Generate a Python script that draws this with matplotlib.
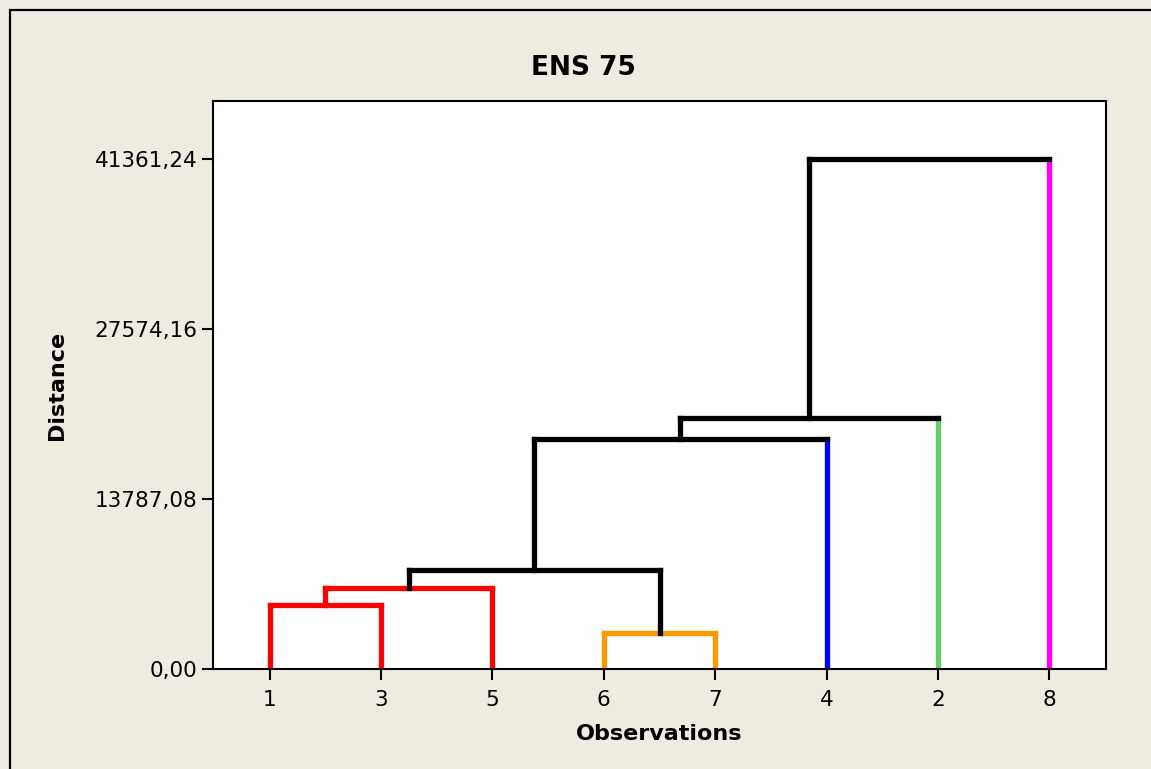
import matplotlib
matplotlib.use("Agg")
import matplotlib.pyplot as plt
from matplotlib.patches import Rectangle

# leaves in plotted order
leaves = ['1', '3', '5', '6', '7', '4', '2', '8']
leaf_colors = ['red', 'red', 'red', '#FF9900', '#FF9900', '#0000FF', '#66CC66', '#FF00FF']

# merge steps (node, left child, right child, distance)
node_names = ['a', 'b', 'c', 'd', 'e', 'f', 'g']
left_child = ['6', '1', 'b', 'c', 'd', 'e', 'f']
right_child = ['7', '3', '5', 'a', '4', '2', '8']
heights = [2920.0, 5190.0, 6570.0, 8030.0, 18650.0, 20360.0, 41361.24]
node_colors = ['#FF9900', 'red', 'red', 'black', 'black', 'black', 'black']

yticks = [0.0, 13787.08, 27574.16, 41361.24]

bg = '#EFEBE1'
fig = plt.figure(figsize=(11.51, 7.69), dpi=100, facecolor=bg)
fig.patches.append(Rectangle((10 / 1151, -0.1), 1.2, 1 - 10 / 769 + 0.1,
                             transform=fig.transFigure, fill=False,
                             edgecolor='black', linewidth=1.6))
ax = fig.add_axes([213 / 1151, 100 / 769, 893 / 1151, 568 / 769])
ax.set_facecolor('white')

xpos = {}
ypos = {}
for i, lf in enumerate(leaves):
    xpos[lf] = i + 1
    ypos[lf] = 0.0
leaf_col = dict(zip(leaves, leaf_colors))

lw = 3.8
for name, l, r, h, c in zip(node_names, left_child, right_child, heights, node_colors):
    for ch in (l, r):
        if c != 'black':
            col = c
        else:
            col = leaf_col.get(ch, 'black')
        ax.plot([xpos[ch], xpos[ch]], [ypos[ch], h], color=col, linewidth=lw,
                solid_capstyle='projecting')
    ax.plot([xpos[l], xpos[r]], [h, h], color=c, linewidth=lw,
            solid_capstyle='projecting')
    xpos[name] = (xpos[l] + xpos[r]) / 2
    ypos[name] = h

ax.set_xlim(0.49, 8.51)
ax.set_ylim(0, 46070)
ax.set_xticks(range(1, len(leaves) + 1))
ax.set_xticklabels(leaves)
ax.set_yticks(yticks)
ax.set_yticklabels([f"{v:.2f}".replace('.', ',') for v in yticks])
ax.tick_params(axis='both', labelsize=15.5, length=8, width=1.5, direction='out')
ax.tick_params(axis='x', pad=7)
ax.tick_params(axis='y', pad=3)
for s in ax.spines.values():
    s.set_linewidth(1.5)

ax.set_xlabel("Observations", fontsize=16, fontweight='bold', labelpad=10)
ax.set_ylabel("Distance", fontsize=16, fontweight='bold', labelpad=20)
fig.text(583 / 1151, 1 - 68 / 769, "ENS 75", fontsize=19, fontweight='bold',
         ha='center', va='center')

fig.savefig("out.png", dpi=100, facecolor=bg)
